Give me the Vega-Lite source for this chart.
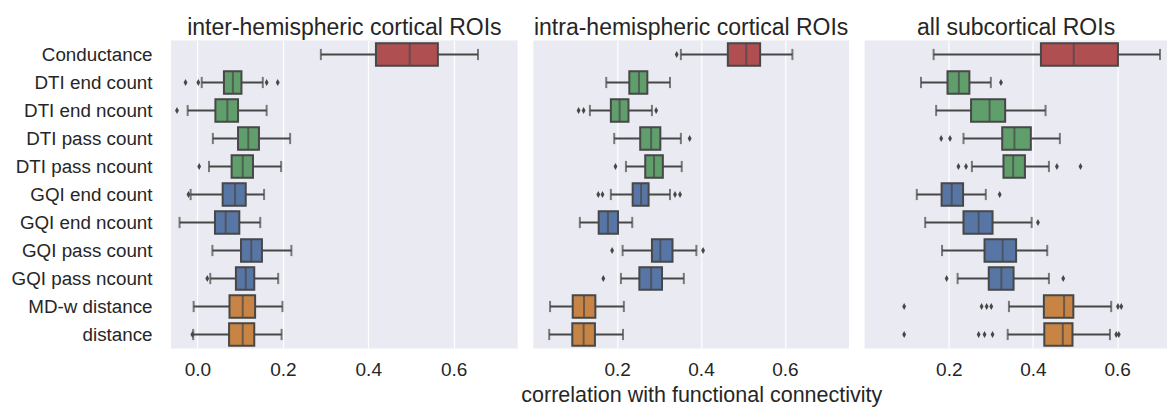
{
  "$schema": "https://vega.github.io/schema/vega-lite/v6.json",
  "padding": {"left": 5, "top": 16.5, "right": 0, "bottom": 0},
  "background": "#ffffff",
  "spacing": 15.3,
  "bounds": "flush",
  "config": {
    "font": "Liberation Sans",
    "view": {"fill": "#eaeaf2", "stroke": null},
    "axis": {"grid": true, "gridColor": "#ffffff", "gridWidth": 1.2, "domain": false, "ticks": false, "tickSize": 0, "labelColor": "#262626", "titleColor": "#262626", "labelFontSize": 19, "titleFontSize": 21.5, "titleFontWeight": "normal", "labelFont": "Liberation Sans", "titleFont": "Liberation Sans"},
    "axisX": {"labelPadding": 12, "titlePadding": 5, "format": ".1f", "labelFlush": false},
    "axisY": {"grid": false, "labelPadding": 19, "minExtent": 166, "maxExtent": 166, "labelFontSize": 18.8},
    "title": {"fontSize": 23, "fontWeight": "normal", "color": "#262626", "offset": 1, "font": "Liberation Sans"}
  },
  "resolve": {"scale": {"x": "independent"}},
  "datasets": {
    "boxes": [
      {"panel": "inter", "roi": "Conductance", "grp": "cond", "lo": 0.289, "q1": 0.418, "med": 0.497, "q3": 0.563, "hi": 0.657},
      {"panel": "inter", "roi": "DTI end count", "grp": "dti", "lo": 0.010, "q1": 0.062, "med": 0.083, "q3": 0.103, "hi": 0.153},
      {"panel": "inter", "roi": "DTI end ncount", "grp": "dti", "lo": -0.023, "q1": 0.042, "med": 0.070, "q3": 0.095, "hi": 0.162},
      {"panel": "inter", "roi": "DTI pass count", "grp": "dti", "lo": 0.036, "q1": 0.095, "med": 0.119, "q3": 0.144, "hi": 0.217},
      {"panel": "inter", "roi": "DTI pass ncount", "grp": "dti", "lo": 0.027, "q1": 0.080, "med": 0.106, "q3": 0.130, "hi": 0.196},
      {"panel": "inter", "roi": "GQI end count", "grp": "gqi", "lo": -0.016, "q1": 0.059, "med": 0.088, "q3": 0.113, "hi": 0.156},
      {"panel": "inter", "roi": "GQI end ncount", "grp": "gqi", "lo": -0.042, "q1": 0.041, "med": 0.066, "q3": 0.098, "hi": 0.147},
      {"panel": "inter", "roi": "GQI pass count", "grp": "gqi", "lo": 0.035, "q1": 0.102, "med": 0.126, "q3": 0.151, "hi": 0.220},
      {"panel": "inter", "roi": "GQI pass ncount", "grp": "gqi", "lo": 0.030, "q1": 0.090, "med": 0.113, "q3": 0.133, "hi": 0.189},
      {"panel": "inter", "roi": "MD-w distance", "grp": "dist", "lo": -0.009, "q1": 0.075, "med": 0.106, "q3": 0.135, "hi": 0.199},
      {"panel": "inter", "roi": "distance", "grp": "dist", "lo": -0.010, "q1": 0.074, "med": 0.106, "q3": 0.133, "hi": 0.197},
      {"panel": "intra", "roi": "Conductance", "grp": "cond", "lo": 0.352, "q1": 0.464, "med": 0.508, "q3": 0.541, "hi": 0.618},
      {"panel": "intra", "roi": "DTI end count", "grp": "dti", "lo": 0.174, "q1": 0.229, "med": 0.252, "q3": 0.272, "hi": 0.326},
      {"panel": "intra", "roi": "DTI end ncount", "grp": "dti", "lo": 0.135, "q1": 0.185, "med": 0.206, "q3": 0.227, "hi": 0.283},
      {"panel": "intra", "roi": "DTI pass count", "grp": "dti", "lo": 0.193, "q1": 0.255, "med": 0.281, "q3": 0.303, "hi": 0.352},
      {"panel": "intra", "roi": "DTI pass ncount", "grp": "dti", "lo": 0.221, "q1": 0.267, "med": 0.288, "q3": 0.309, "hi": 0.354},
      {"panel": "intra", "roi": "GQI end count", "grp": "gqi", "lo": 0.185, "q1": 0.237, "med": 0.257, "q3": 0.275, "hi": 0.326},
      {"panel": "intra", "roi": "GQI end ncount", "grp": "gqi", "lo": 0.111, "q1": 0.156, "med": 0.178, "q3": 0.202, "hi": 0.236},
      {"panel": "intra", "roi": "GQI pass count", "grp": "gqi", "lo": 0.213, "q1": 0.283, "med": 0.303, "q3": 0.332, "hi": 0.389},
      {"panel": "intra", "roi": "GQI pass ncount", "grp": "gqi", "lo": 0.209, "q1": 0.253, "med": 0.281, "q3": 0.307, "hi": 0.359},
      {"panel": "intra", "roi": "MD-w distance", "grp": "dist", "lo": 0.040, "q1": 0.094, "med": 0.121, "q3": 0.148, "hi": 0.216},
      {"panel": "intra", "roi": "distance", "grp": "dist", "lo": 0.038, "q1": 0.093, "med": 0.120, "q3": 0.147, "hi": 0.214},
      {"panel": "sub", "roi": "Conductance", "grp": "cond", "lo": 0.164, "q1": 0.419, "med": 0.497, "q3": 0.602, "hi": 0.702},
      {"panel": "sub", "roi": "DTI end count", "grp": "dti", "lo": 0.134, "q1": 0.197, "med": 0.224, "q3": 0.249, "hi": 0.300},
      {"panel": "sub", "roi": "DTI end ncount", "grp": "dti", "lo": 0.170, "q1": 0.253, "med": 0.297, "q3": 0.334, "hi": 0.430},
      {"panel": "sub", "roi": "DTI pass count", "grp": "dti", "lo": 0.235, "q1": 0.327, "med": 0.356, "q3": 0.395, "hi": 0.464},
      {"panel": "sub", "roi": "DTI pass ncount", "grp": "dti", "lo": 0.255, "q1": 0.330, "med": 0.353, "q3": 0.381, "hi": 0.438},
      {"panel": "sub", "roi": "GQI end count", "grp": "gqi", "lo": 0.124, "q1": 0.183, "med": 0.207, "q3": 0.234, "hi": 0.288},
      {"panel": "sub", "roi": "GQI end ncount", "grp": "gqi", "lo": 0.144, "q1": 0.235, "med": 0.271, "q3": 0.304, "hi": 0.397},
      {"panel": "sub", "roi": "GQI pass count", "grp": "gqi", "lo": 0.184, "q1": 0.285, "med": 0.328, "q3": 0.360, "hi": 0.434},
      {"panel": "sub", "roi": "GQI pass ncount", "grp": "gqi", "lo": 0.221, "q1": 0.295, "med": 0.325, "q3": 0.354, "hi": 0.438},
      {"panel": "sub", "roi": "MD-w distance", "grp": "dist", "lo": 0.343, "q1": 0.426, "med": 0.474, "q3": 0.496, "hi": 0.586},
      {"panel": "sub", "roi": "distance", "grp": "dist", "lo": 0.340, "q1": 0.427, "med": 0.471, "q3": 0.494, "hi": 0.583}
    ],
    "outliers": [
      {"panel": "inter", "roi": "DTI end count", "v": -0.028},
      {"panel": "inter", "roi": "DTI end count", "v": 0.002},
      {"panel": "inter", "roi": "DTI end count", "v": 0.162},
      {"panel": "inter", "roi": "DTI end count", "v": 0.188},
      {"panel": "inter", "roi": "DTI end ncount", "v": -0.048},
      {"panel": "inter", "roi": "DTI pass ncount", "v": 0.004},
      {"panel": "inter", "roi": "GQI end count", "v": -0.021},
      {"panel": "inter", "roi": "GQI pass ncount", "v": 0.023},
      {"panel": "inter", "roi": "distance", "v": -0.012},
      {"panel": "intra", "roi": "Conductance", "v": 0.342},
      {"panel": "intra", "roi": "DTI end ncount", "v": 0.108},
      {"panel": "intra", "roi": "DTI end ncount", "v": 0.120},
      {"panel": "intra", "roi": "DTI end ncount", "v": 0.293},
      {"panel": "intra", "roi": "DTI pass count", "v": 0.373},
      {"panel": "intra", "roi": "DTI pass ncount", "v": 0.196},
      {"panel": "intra", "roi": "GQI end count", "v": 0.155},
      {"panel": "intra", "roi": "GQI end count", "v": 0.165},
      {"panel": "intra", "roi": "GQI end count", "v": 0.338},
      {"panel": "intra", "roi": "GQI end count", "v": 0.350},
      {"panel": "intra", "roi": "GQI pass count", "v": 0.188},
      {"panel": "intra", "roi": "GQI pass count", "v": 0.405},
      {"panel": "intra", "roi": "GQI pass ncount", "v": 0.167},
      {"panel": "sub", "roi": "DTI end count", "v": 0.324},
      {"panel": "sub", "roi": "DTI pass count", "v": 0.182},
      {"panel": "sub", "roi": "DTI pass count", "v": 0.203},
      {"panel": "sub", "roi": "DTI pass ncount", "v": 0.223},
      {"panel": "sub", "roi": "DTI pass ncount", "v": 0.241},
      {"panel": "sub", "roi": "DTI pass ncount", "v": 0.457},
      {"panel": "sub", "roi": "DTI pass ncount", "v": 0.513},
      {"panel": "sub", "roi": "GQI end count", "v": 0.321},
      {"panel": "sub", "roi": "GQI end ncount", "v": 0.412},
      {"panel": "sub", "roi": "GQI pass ncount", "v": 0.195},
      {"panel": "sub", "roi": "GQI pass ncount", "v": 0.472},
      {"panel": "sub", "roi": "MD-w distance", "v": 0.094},
      {"panel": "sub", "roi": "MD-w distance", "v": 0.278},
      {"panel": "sub", "roi": "MD-w distance", "v": 0.290},
      {"panel": "sub", "roi": "MD-w distance", "v": 0.301},
      {"panel": "sub", "roi": "MD-w distance", "v": 0.602},
      {"panel": "sub", "roi": "MD-w distance", "v": 0.610},
      {"panel": "sub", "roi": "distance", "v": 0.094},
      {"panel": "sub", "roi": "distance", "v": 0.271},
      {"panel": "sub", "roi": "distance", "v": 0.285},
      {"panel": "sub", "roi": "distance", "v": 0.304},
      {"panel": "sub", "roi": "distance", "v": 0.598},
      {"panel": "sub", "roi": "distance", "v": 0.604}
    ]
  },
  "hconcat": [
    {
      "width": 346.7, "height": 308,
      "title": "inter-hemispheric cortical ROIs",
      "layer": [
        {"data": {"name": "boxes"}, "transform": [{"filter": "datum.panel === 'inter'"}],
         "mark": {"type": "rule", "color": "#474747", "strokeWidth": 1.8},
         "encoding": {
           "y": {"field": "roi", "type": "nominal", "sort": null, "title": null, "scale": {"domain": ["Conductance", "DTI end count", "DTI end ncount", "DTI pass count", "DTI pass ncount", "GQI end count", "GQI end ncount", "GQI pass count", "GQI pass ncount", "MD-w distance", "distance"], "paddingInner": 0, "paddingOuter": 0}},
           "x": {"field": "lo", "type": "quantitative", "title": null, "scale": {"domain": [-0.062, 0.75], "nice": false, "zero": false}, "axis": {"values": [0, 0.2, 0.4, 0.6]}},
           "x2": {"field": "hi"}}},
        {"data": {"name": "boxes"}, "transform": [{"filter": "datum.panel === 'inter'"}],
         "mark": {"type": "bar", "height": {"band": 0.8}, "stroke": "#474747", "strokeWidth": 2},
         "encoding": {
           "y": {"field": "roi", "type": "nominal", "sort": null, "title": null},
           "x": {"field": "q1", "type": "quantitative", "title": null},
           "x2": {"field": "q3"},
           "color": {"field": "grp", "type": "nominal", "legend": null, "scale": {"domain": ["cond", "dti", "gqi", "dist"], "range": ["#b04f52", "#609e6c", "#5876a5", "#c88444"]}}}},
        {"data": {"name": "boxes"}, "transform": [{"filter": "datum.panel === 'inter'"}],
         "mark": {"type": "tick", "orient": "vertical", "size": 22.4, "thickness": 2, "color": "#474747"},
         "encoding": {"y": {"field": "roi", "type": "nominal", "sort": null, "title": null}, "x": {"field": "med", "type": "quantitative", "title": null}}},
        {"data": {"name": "boxes"}, "transform": [{"filter": "datum.panel === 'inter'"}],
         "mark": {"type": "tick", "orient": "vertical", "size": 11.2, "thickness": 2, "color": "#474747"},
         "encoding": {"y": {"field": "roi", "type": "nominal", "sort": null, "title": null}, "x": {"field": "lo", "type": "quantitative", "title": null}}},
        {"data": {"name": "boxes"}, "transform": [{"filter": "datum.panel === 'inter'"}],
         "mark": {"type": "tick", "orient": "vertical", "size": 11.2, "thickness": 2, "color": "#474747"},
         "encoding": {"y": {"field": "roi", "type": "nominal", "sort": null, "title": null}, "x": {"field": "hi", "type": "quantitative", "title": null}}},
        {"data": {"name": "outliers"}, "transform": [{"filter": "datum.panel === 'inter'"}],
         "mark": {"type": "point", "shape": "M0,-1L0.55,0L0,1L-0.55,0Z", "size": 49, "filled": true, "color": "#474747", "opacity": 1},
         "encoding": {"y": {"field": "roi", "type": "nominal", "sort": null, "title": null}, "x": {"field": "v", "type": "quantitative", "title": null}}}
      ]
    },
    {
      "width": 315.7, "height": 308,
      "title": "intra-hemispheric cortical ROIs",
      "layer": [
        {"data": {"name": "boxes"}, "transform": [{"filter": "datum.panel === 'intra'"}],
         "mark": {"type": "rule", "color": "#474747", "strokeWidth": 1.8},
         "encoding": {
           "y": {"field": "roi", "type": "nominal", "sort": null, "axis": null, "scale": {"domain": ["Conductance", "DTI end count", "DTI end ncount", "DTI pass count", "DTI pass ncount", "GQI end count", "GQI end ncount", "GQI pass count", "GQI pass ncount", "MD-w distance", "distance"], "paddingInner": 0, "paddingOuter": 0}},
           "x": {"field": "lo", "type": "quantitative", "title": "correlation with functional connectivity", "scale": {"domain": [0.0, 0.753], "nice": false, "zero": false}, "axis": {"values": [0.2, 0.4, 0.6], "titleX": 168}},
           "x2": {"field": "hi"}}},
        {"data": {"name": "boxes"}, "transform": [{"filter": "datum.panel === 'intra'"}],
         "mark": {"type": "bar", "height": {"band": 0.8}, "stroke": "#474747", "strokeWidth": 2},
         "encoding": {
           "y": {"field": "roi", "type": "nominal", "sort": null, "axis": null},
           "x": {"field": "q1", "type": "quantitative", "title": "correlation with functional connectivity"},
           "x2": {"field": "q3"},
           "color": {"field": "grp", "type": "nominal", "legend": null, "scale": {"domain": ["cond", "dti", "gqi", "dist"], "range": ["#b04f52", "#609e6c", "#5876a5", "#c88444"]}}}},
        {"data": {"name": "boxes"}, "transform": [{"filter": "datum.panel === 'intra'"}],
         "mark": {"type": "tick", "orient": "vertical", "size": 22.4, "thickness": 2, "color": "#474747"},
         "encoding": {"y": {"field": "roi", "type": "nominal", "sort": null, "axis": null}, "x": {"field": "med", "type": "quantitative", "title": "correlation with functional connectivity"}}},
        {"data": {"name": "boxes"}, "transform": [{"filter": "datum.panel === 'intra'"}],
         "mark": {"type": "tick", "orient": "vertical", "size": 11.2, "thickness": 2, "color": "#474747"},
         "encoding": {"y": {"field": "roi", "type": "nominal", "sort": null, "axis": null}, "x": {"field": "lo", "type": "quantitative", "title": "correlation with functional connectivity"}}},
        {"data": {"name": "boxes"}, "transform": [{"filter": "datum.panel === 'intra'"}],
         "mark": {"type": "tick", "orient": "vertical", "size": 11.2, "thickness": 2, "color": "#474747"},
         "encoding": {"y": {"field": "roi", "type": "nominal", "sort": null, "axis": null}, "x": {"field": "hi", "type": "quantitative", "title": "correlation with functional connectivity"}}},
        {"data": {"name": "outliers"}, "transform": [{"filter": "datum.panel === 'intra'"}],
         "mark": {"type": "point", "shape": "M0,-1L0.55,0L0,1L-0.55,0Z", "size": 49, "filled": true, "color": "#474747", "opacity": 1},
         "encoding": {"y": {"field": "roi", "type": "nominal", "sort": null, "axis": null}, "x": {"field": "v", "type": "quantitative", "title": "correlation with functional connectivity"}}}
      ]
    },
    {
      "width": 303, "height": 308,
      "title": "all subcortical ROIs",
      "layer": [
        {"data": {"name": "boxes"}, "transform": [{"filter": "datum.panel === 'sub'"}],
         "mark": {"type": "rule", "color": "#474747", "strokeWidth": 1.8},
         "encoding": {
           "y": {"field": "roi", "type": "nominal", "sort": null, "axis": null, "scale": {"domain": ["Conductance", "DTI end count", "DTI end ncount", "DTI pass count", "DTI pass ncount", "GQI end count", "GQI end ncount", "GQI pass count", "GQI pass ncount", "MD-w distance", "distance"], "paddingInner": 0, "paddingOuter": 0}},
           "x": {"field": "lo", "type": "quantitative", "title": null, "scale": {"domain": [0.0, 0.72], "nice": false, "zero": false}, "axis": {"values": [0.2, 0.4, 0.6]}},
           "x2": {"field": "hi"}}},
        {"data": {"name": "boxes"}, "transform": [{"filter": "datum.panel === 'sub'"}],
         "mark": {"type": "bar", "height": {"band": 0.8}, "stroke": "#474747", "strokeWidth": 2},
         "encoding": {
           "y": {"field": "roi", "type": "nominal", "sort": null, "axis": null},
           "x": {"field": "q1", "type": "quantitative", "title": null},
           "x2": {"field": "q3"},
           "color": {"field": "grp", "type": "nominal", "legend": null, "scale": {"domain": ["cond", "dti", "gqi", "dist"], "range": ["#b04f52", "#609e6c", "#5876a5", "#c88444"]}}}},
        {"data": {"name": "boxes"}, "transform": [{"filter": "datum.panel === 'sub'"}],
         "mark": {"type": "tick", "orient": "vertical", "size": 22.4, "thickness": 2, "color": "#474747"},
         "encoding": {"y": {"field": "roi", "type": "nominal", "sort": null, "axis": null}, "x": {"field": "med", "type": "quantitative", "title": null}}},
        {"data": {"name": "boxes"}, "transform": [{"filter": "datum.panel === 'sub'"}],
         "mark": {"type": "tick", "orient": "vertical", "size": 11.2, "thickness": 2, "color": "#474747"},
         "encoding": {"y": {"field": "roi", "type": "nominal", "sort": null, "axis": null}, "x": {"field": "lo", "type": "quantitative", "title": null}}},
        {"data": {"name": "boxes"}, "transform": [{"filter": "datum.panel === 'sub'"}],
         "mark": {"type": "tick", "orient": "vertical", "size": 11.2, "thickness": 2, "color": "#474747"},
         "encoding": {"y": {"field": "roi", "type": "nominal", "sort": null, "axis": null}, "x": {"field": "hi", "type": "quantitative", "title": null}}},
        {"data": {"name": "outliers"}, "transform": [{"filter": "datum.panel === 'sub'"}],
         "mark": {"type": "point", "shape": "M0,-1L0.55,0L0,1L-0.55,0Z", "size": 49, "filled": true, "color": "#474747", "opacity": 1},
         "encoding": {"y": {"field": "roi", "type": "nominal", "sort": null, "axis": null}, "x": {"field": "v", "type": "quantitative", "title": null}}}
      ]
    }
  ]
}
